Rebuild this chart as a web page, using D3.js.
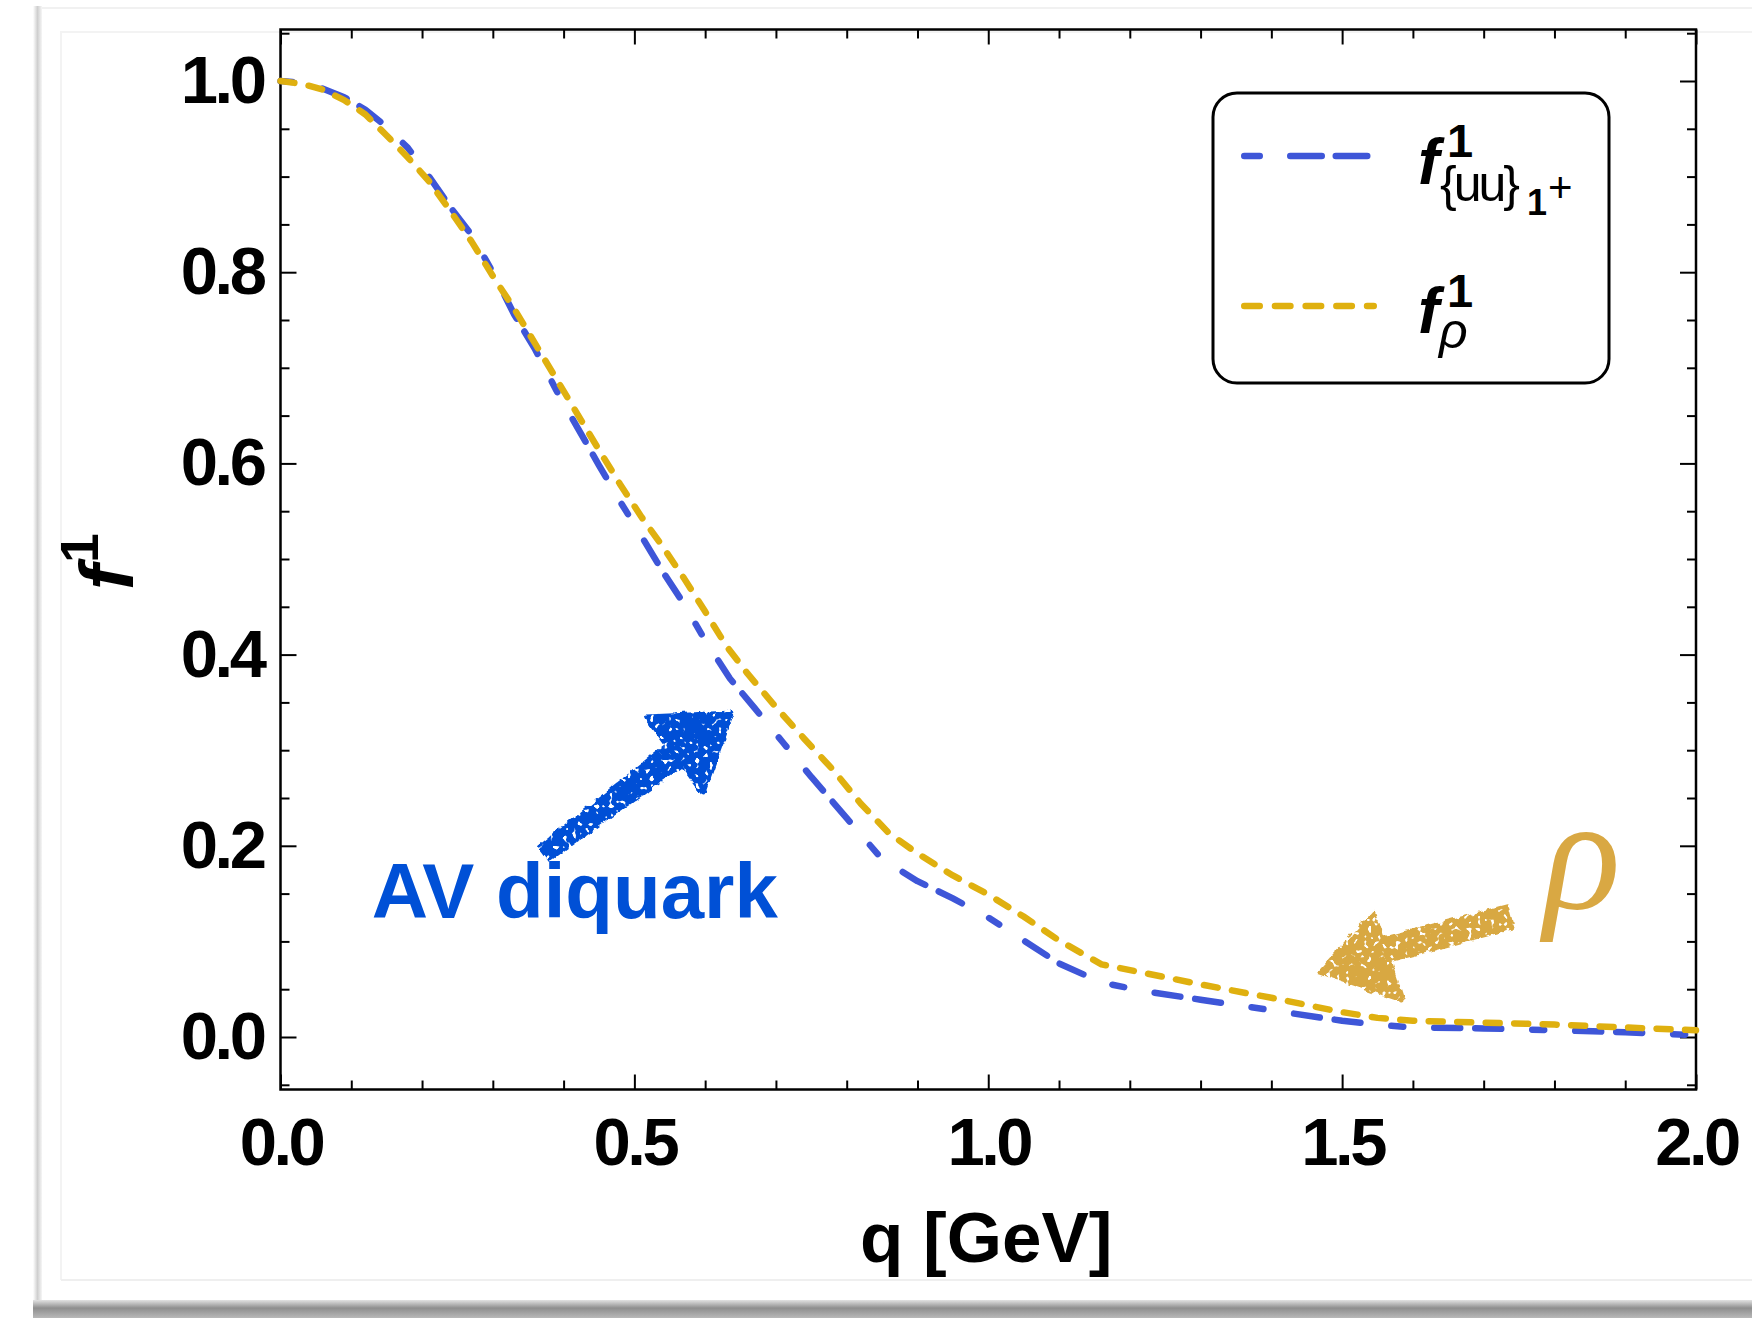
<!doctype html>
<html lang="en">

<head>
    <meta charset="utf-8">
    <title>f1 form factors: AV diquark vs rho</title>
    <script src="https://cdn.jsdelivr.net/npm/d3@7"></script>
    <style>
        body {
            margin: 0;
            background: #ffffff;
        }

        svg {
            display: block;
        }

        .tick text {
            font-family: "Liberation Sans", Arial, Helvetica, sans-serif;
            font-weight: bold;
            font-size: 67px;
            letter-spacing: -3.5px;
            fill: #000;
        }

        .tick line {
            stroke: #000;
            stroke-width: 2;
        }
    </style>
</head>

<body>
    <svg></svg>
    <script>
        var width = 1752;
        var height = 1318;

        // q [GeV] grid and form factor values
        var qAV = [0, 0.03, 0.06, 0.09, 0.12, 0.15, 0.18, 0.21, 0.24, 0.27, 0.30, 0.33, 0.36, 0.39, 0.42, 0.45,
            0.48, 0.51, 0.54, 0.57, 0.60, 0.635, 0.67, 0.71, 0.75, 0.80, 0.85, 0.90, 0.95, 1.00, 1.05, 1.10,
            1.16, 1.22, 1.30, 1.40, 1.50, 1.55, 1.60, 1.70, 1.80, 1.90, 2.00];
        var fAV = [1.000, 0.998, 0.992, 0.983, 0.970, 0.952, 0.930, 0.900, 0.868, 0.839, 0.800, 0.756, 0.719, 0.676, 0.637, 0.598,
            0.560, 0.524, 0.487, 0.453, 0.415, 0.375, 0.344, 0.308, 0.272, 0.229, 0.186, 0.163, 0.145, 0.125, 0.101, 0.077,
            0.057, 0.048, 0.039, 0.028, 0.017, 0.013, 0.010, 0.009, 0.007, 0.005, 0.002];

        var qRho = [0, 0.03, 0.06, 0.09, 0.12, 0.15, 0.18, 0.21, 0.24, 0.27, 0.30, 0.33, 0.36, 0.39, 0.42, 0.45,
            0.48, 0.51, 0.54, 0.57, 0.60, 0.63, 0.66, 0.70, 0.74, 0.78, 0.82, 0.86, 0.90, 0.95, 1.00, 1.05,
            1.10, 1.16, 1.22, 1.30, 1.40, 1.50, 1.55, 1.60, 1.70, 1.80, 1.90, 2.00];
        var fRho = [1.000, 0.997, 0.991, 0.980, 0.965, 0.943, 0.920, 0.895, 0.864, 0.832, 0.796, 0.762, 0.725, 0.688, 0.651, 0.614,
            0.578, 0.544, 0.513, 0.480, 0.445, 0.409, 0.380, 0.345, 0.312, 0.280, 0.244, 0.213, 0.192, 0.169, 0.149, 0.126,
            0.101, 0.076, 0.067, 0.055, 0.041, 0.026, 0.020, 0.017, 0.015, 0.013, 0.010, 0.007];

        var xMajor = [0, 0.5, 1.0, 1.5, 2.0];
        var xMinor = [0.1, 0.2, 0.3, 0.4, 0.6, 0.7, 0.8, 0.9, 1.1, 1.2, 1.3, 1.4, 1.6, 1.7, 1.8, 1.9];
        var yMajor = [0, 0.2, 0.4, 0.6, 0.8, 1.0];
        var yMinor = [-0.05, 0.05, 0.1, 0.15, 0.25, 0.3, 0.35, 0.45, 0.5, 0.55, 0.65, 0.7, 0.75, 0.85, 0.9, 0.95, 1.05];

        var blue = "#3e56d8";
        var gold = "#dfb00f";
        var blueDash = "12 31 26 15 26 31";
        var goldDash = "14 14.5";
        var blueKeyDash = "15.5 30.5 31.5 14 31.5 30.5";
        var goldKeyDash = "15.5 15.2";

        var svg = d3.select('svg').attr("width", width).attr("height", height);

        // page frame / shadow of the original screenshot
        var defs = svg.append("defs");
        var gl = defs.append("linearGradient").attr("id", "leftShade");
        gl.append("stop").attr("offset", "0%").attr("stop-color", "#ffffff");
        gl.append("stop").attr("offset", "50%").attr("stop-color", "#cfcfcf");
        gl.append("stop").attr("offset", "100%").attr("stop-color", "#f6f6f6");
        var gb = defs.append("linearGradient").attr("id", "bottomShade")
            .attr("x1", 0).attr("x2", 0).attr("y1", 0).attr("y2", 1);
        gb.append("stop").attr("offset", "0%").attr("stop-color", "#e2e2e2");
        gb.append("stop").attr("offset", "45%").attr("stop-color", "#8e8e8e");
        gb.append("stop").attr("offset", "100%").attr("stop-color", "#b8b8b8");

        svg.append("rect").attr("x", 33).attr("y", 6).attr("width", 9).attr("height", 1296).attr("fill", "url(#leftShade)");
        svg.append("rect").attr("x", 33).attr("y", 1300).attr("width", width - 33).attr("height", 18).attr("fill", "url(#bottomShade)");
        svg.append("line").attr("x1", 42).attr("x2", width).attr("y1", 8).attr("y2", 8).attr("stroke", "#f1f1f1").attr("stroke-width", 2);
        svg.append("path").attr("d", "M61,1280V32H" + width).attr("fill", "none").attr("stroke", "#f3f3f3").attr("stroke-width", 2);
        svg.append("line").attr("x1", 61).attr("x2", width).attr("y1", 1280).attr("y2", 1280).attr("stroke", "#efefef").attr("stroke-width", 2);

        // chalk texture for the hand drawn arrows
        var chalk = defs.append("filter").attr("id", "chalk")
            .attr("x", "-20%").attr("y", "-20%").attr("width", "140%").attr("height", "140%");
        chalk.append("feTurbulence").attr("type", "fractalNoise").attr("baseFrequency", 0.11)
            .attr("numOctaves", 2).attr("seed", 3).attr("result", "n1");
        chalk.append("feDisplacementMap").attr("in", "SourceGraphic").attr("in2", "n1").attr("scale", 7)
            .attr("xChannelSelector", "R").attr("yChannelSelector", "G").attr("result", "d");
        chalk.append("feTurbulence").attr("type", "fractalNoise").attr("baseFrequency", 0.22)
            .attr("numOctaves", 1).attr("seed", 9).attr("result", "n2");
        chalk.append("feColorMatrix").attr("in", "n2").attr("type", "matrix")
            .attr("values", "0 0 0 0 0  0 0 0 0 0  0 0 0 0 0  0 0 0 -14 9.6").attr("result", "holes");
        chalk.append("feComposite").attr("in", "d").attr("in2", "holes").attr("operator", "in");

        var xScale = d3.scaleLinear().domain([0, 2]).range([280.5, 1696]);
        var yScale = d3.scaleLinear().domain([0, 1]).range([1037, 81]);
        var frameTop = 29.5, frameBottom = 1089.5;

        function noDomain(g) { g.select(".domain").remove(); }

        // ticks, all pointing inward like a Mathematica frame
        svg.append("g").attr("transform", "translate(0," + frameBottom + ")")
            .call(d3.axisBottom(xScale).tickValues(xMajor).tickSize(-15).tickPadding(27.5).tickFormat(d3.format(".1f")))
            .call(noDomain);
        svg.append("g").attr("transform", "translate(0," + frameBottom + ")")
            .call(d3.axisBottom(xScale).tickValues(xMinor).tickSize(-9).tickFormat(""))
            .call(noDomain);
        svg.append("g").attr("transform", "translate(0," + frameTop + ")")
            .call(d3.axisTop(xScale).tickValues(xMajor).tickSize(-15).tickFormat(""))
            .call(noDomain);
        svg.append("g").attr("transform", "translate(0," + frameTop + ")")
            .call(d3.axisTop(xScale).tickValues(xMinor).tickSize(-9).tickFormat(""))
            .call(noDomain);

        svg.append("g").attr("transform", "translate(" + xScale(0) + ",0)")
            .call(d3.axisLeft(yScale).tickValues(yMajor).tickSize(-16).tickPadding(17).tickFormat(d3.format(".1f")))
            .call(noDomain);
        svg.append("g").attr("transform", "translate(" + xScale(0) + ",0)")
            .call(d3.axisLeft(yScale).tickValues(yMinor).tickSize(-9).tickFormat(""))
            .call(noDomain);
        svg.append("g").attr("transform", "translate(" + xScale(2) + ",0)")
            .call(d3.axisRight(yScale).tickValues(yMajor).tickSize(-16).tickFormat(""))
            .call(noDomain);
        svg.append("g").attr("transform", "translate(" + xScale(2) + ",0)")
            .call(d3.axisRight(yScale).tickValues(yMinor).tickSize(-9).tickFormat(""))
            .call(noDomain);

        svg.append("rect")
            .attr("x", xScale(0)).attr("y", frameTop)
            .attr("width", xScale(2) - xScale(0)).attr("height", frameBottom - frameTop)
            .attr("fill", "none").attr("stroke", "#000").attr("stroke-width", 2.5);

        // curves
        var line = d3.line()
            .x(function (d) { return xScale(d[0]); })
            .y(function (d) { return yScale(d[1]); });

        svg.append("path")
            .datum(d3.zip(qAV, fAV))
            .attr("d", line)
            .attr("fill", "none").attr("stroke", blue).attr("stroke-width", 6.5)
            .attr("stroke-linecap", "round").attr("stroke-linejoin", "round")
            .attr("stroke-dasharray", blueDash);

        svg.append("path")
            .datum(d3.zip(qRho, fRho))
            .attr("d", line)
            .attr("fill", "none").attr("stroke", gold).attr("stroke-width", 6.5)
            .attr("stroke-linecap", "round").attr("stroke-linejoin", "round")
            .attr("stroke-dasharray", goldDash);

        var font = "Liberation Sans, Arial, sans-serif";

        // axis labels
        svg.append("text")
            .attr("x", xScale(1) - 2).attr("y", 1262)
            .attr("text-anchor", "middle")
            .attr("font-family", font).attr("font-weight", "bold")
            .attr("font-size", "71px")
            .text("q [GeV]");

        var yl = svg.append("text")
            .attr("transform", "translate(133,590) rotate(-90)")
            .attr("font-family", font).attr("font-weight", "bold");
        yl.append("tspan").attr("font-style", "italic").attr("font-size", "76px").text("f");
        yl.append("tspan").attr("font-size", "53px").attr("dy", -35).attr("dx", 2).text("1");

        // legend
        svg.append("rect")
            .attr("x", 1213).attr("y", 93).attr("width", 396).attr("height", 290)
            .attr("rx", 24).attr("ry", 24)
            .attr("fill", "#fff").attr("stroke", "#000").attr("stroke-width", 3);

        svg.append("line").attr("x1", 1244.25).attr("x2", 1369).attr("y1", 156).attr("y2", 156)
            .attr("stroke", blue).attr("stroke-width", 6.5).attr("stroke-linecap", "round")
            .attr("stroke-dasharray", blueKeyDash);
        svg.append("line").attr("x1", 1244.25).attr("x2", 1373.75).attr("y1", 306).attr("y2", 306)
            .attr("stroke", gold).attr("stroke-width", 6.5).attr("stroke-linecap", "round")
            .attr("stroke-dasharray", goldKeyDash);

        var l1 = svg.append("text").attr("font-family", font);
        l1.append("tspan").attr("x", 1418).attr("y", 184).attr("font-size", "64px")
            .attr("font-weight", "bold").attr("font-style", "italic").text("f");
        l1.append("tspan").attr("x", 1447).attr("y", 157).attr("font-size", "47px")
            .attr("font-weight", "bold").text("1");
        l1.append("tspan").attr("x", 1440).attr("y", 201).attr("font-size", "50px")
            .attr("letter-spacing", "-3px").text("{uu}");
        l1.append("tspan").attr("x", 1527).attr("y", 215).attr("font-size", "36px")
            .attr("font-weight", "bold").attr("letter-spacing", "0px").text("1");
        l1.append("tspan").attr("x", 1548).attr("y", 202).attr("font-size", "42px").text("+");

        var l2 = svg.append("text").attr("font-family", font);
        l2.append("tspan").attr("x", 1418).attr("y", 333).attr("font-size", "64px")
            .attr("font-weight", "bold").attr("font-style", "italic").text("f");
        l2.append("tspan").attr("x", 1447).attr("y", 307).attr("font-size", "47px")
            .attr("font-weight", "bold").text("1");
        l2.append("tspan").attr("x", 1439).attr("y", 348).attr("font-size", "50px")
            .attr("font-style", "italic").text("ρ");

        // hand drawn arrows, placed in data coordinates
        function arrowPath(tail, neck, w0, w1, head) {
            var p0 = [xScale(tail[0]), yScale(tail[1])];
            var p1 = [xScale(neck[0]), yScale(neck[1])];
            var dx = p1[0] - p0[0], dy = p1[1] - p0[1];
            var len = Math.sqrt(dx * dx + dy * dy);
            var nx = -dy / len, ny = dx / len;
            var shaft = [
                [p0[0] + nx * w0 / 2, p0[1] + ny * w0 / 2],
                [p1[0] + nx * w1 / 2, p1[1] + ny * w1 / 2],
                [p1[0] - nx * w1 / 2, p1[1] - ny * w1 / 2],
                [p0[0] - nx * w0 / 2, p0[1] - ny * w0 / 2]
            ];
            var tri = head.map(function (d) { return [xScale(d[0]), yScale(d[1])]; });
            return "M" + shaft.join("L") + "Z" + "M" + tri.join("L") + "Z";
        }

        svg.append("path")
            .attr("d", arrowPath([0.374, 0.1925], [0.560, 0.297], 15, 24,
                [[0.5177, 0.3347], [0.6379, 0.3389], [0.5970, 0.2552]]))
            .attr("fill", "#0050d6").attr("stroke", "#0050d6").attr("stroke-width", 5)
            .attr("stroke-linejoin", "round").attr("filter", "url(#chalk)");

        svg.append("path")
            .attr("d", arrowPath([1.7357, 0.1255], [1.555, 0.090], 21, 22,
                [[1.4687, 0.0680], [1.5450, 0.1297], [1.5846, 0.0387]]))
            .attr("fill", "#d8a843").attr("stroke", "#d8a843").attr("stroke-width", 5)
            .attr("stroke-linejoin", "round").attr("filter", "url(#chalk)");

        svg.append("text")
            .attr("x", xScale(0.129)).attr("y", yScale(0.1245))
            .attr("font-family", font).attr("font-weight", "bold").attr("font-size", "78px")
            .attr("fill", "#0050d6")
            .text("AV diquark");

        svg.append("text")
            .attr("x", xScale(1.785)).attr("y", yScale(0.135))
            .attr("font-family", "Liberation Serif, Times New Roman, serif").attr("font-style", "italic")
            .attr("font-size", "160px")
            .attr("fill", "#d9a843")
            .text("ρ");
    </script>

</body>

</html>
